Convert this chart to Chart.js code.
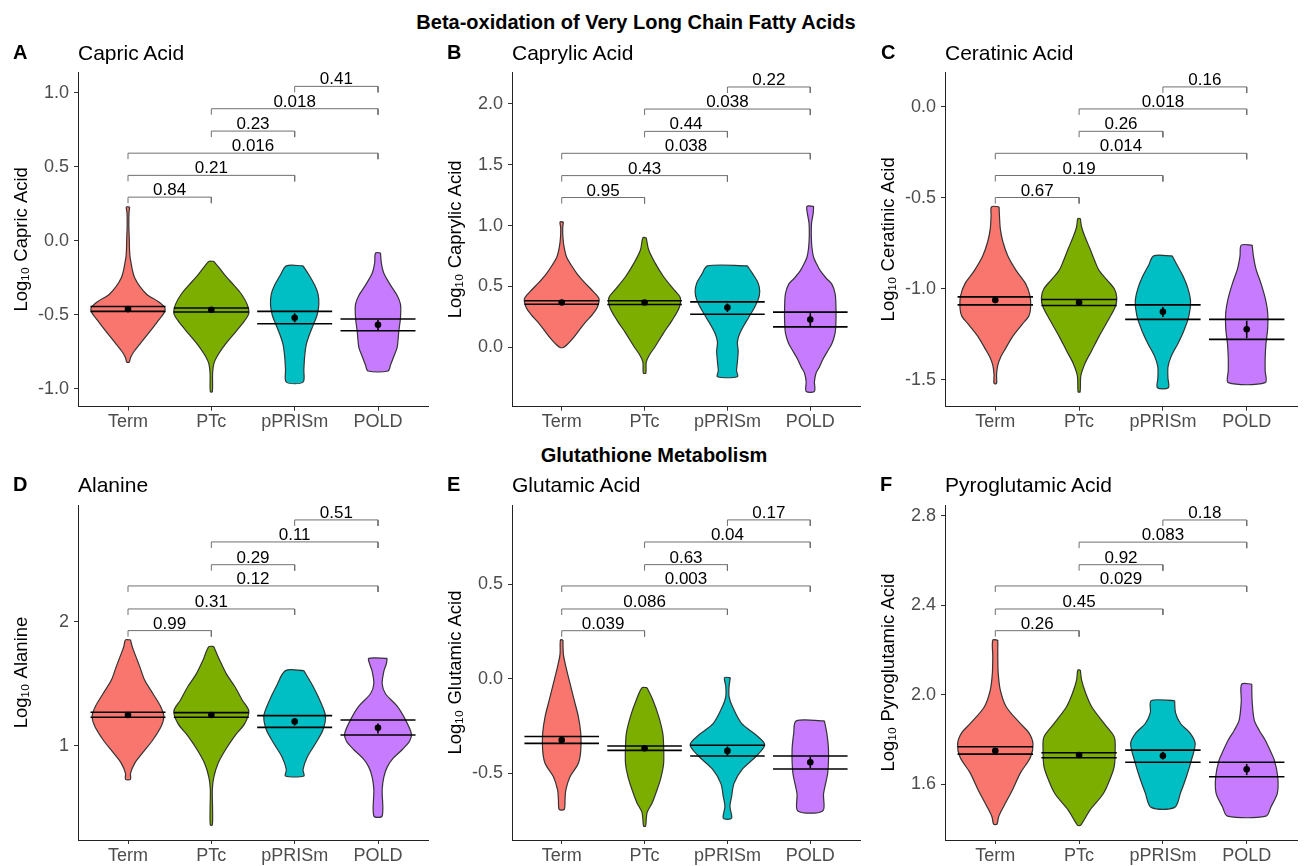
<!DOCTYPE html>
<html><head><meta charset="utf-8">
<script src="https://cdn.jsdelivr.net/npm/chart.js@4.4.1/dist/chart.umd.min.js"></script>
<style>
html,body{margin:0;padding:0;background:#fff;}
body{width:1304px;height:866px;position:relative;overflow:hidden;font-family:'Liberation Sans',Arial,sans-serif;}
canvas{position:absolute;}
.t{position:absolute;line-height:1;white-space:nowrap;transform:translateY(-50%);color:#000;z-index:5;}
.sec{font-weight:bold;font-size:20px;transform:translate(-50%,-50%);}
.let{font-weight:bold;font-size:20px;}
.ttl{font-size:21px;}
</style></head><body>
<div class="t sec" style="left:636px;top:22px;">Beta-oxidation of Very Long Chain Fatty Acids</div>
<div class="t sec" style="left:654px;top:455px;">Glutathione Metabolism</div>
<script>
// ---------- DATA ----------
const groups = ['Term', 'PTc', 'pPRISm', 'POLD'];
const pairs = [[1,2],[1,3],[1,4],[2,3],[2,4],[3,4]];

// Panel A: Capric Acid  (violin outline: [value, half-width in category units], top to bottom)
const capricShapes = [
  [[0.227,0.02],[0.19,0.012],[0.10,0.01],[0.02,0.015],[-0.08,0.02],[-0.13,0.03],[-0.25,0.08],[-0.36,0.22],[-0.41,0.36],[-0.45,0.44],[-0.48,0.44],[-0.55,0.35],[-0.63,0.24],[-0.70,0.14],[-0.75,0.07],[-0.79,0.03],[-0.82,0.015]],
  [[-0.14,0.03],[-0.18,0.09],[-0.245,0.18],[-0.30,0.27],[-0.36,0.36],[-0.43,0.43],[-0.49,0.45],[-0.54,0.40],[-0.61,0.30],[-0.67,0.21],[-0.72,0.14],[-0.78,0.07],[-0.83,0.03],[-0.90,0.015],[-1.02,0.012]],
  [[-0.17,0.10],[-0.23,0.17],[-0.30,0.24],[-0.36,0.28],[-0.43,0.29],[-0.50,0.27],[-0.56,0.23],[-0.63,0.18],[-0.70,0.14],[-0.78,0.12],[-0.87,0.11],[-0.955,0.10]],
  [[-0.083,0.03],[-0.15,0.04],[-0.22,0.07],[-0.30,0.15],[-0.37,0.23],[-0.43,0.27],[-0.52,0.27],[-0.61,0.25],[-0.72,0.23],[-0.78,0.19],[-0.84,0.15],[-0.88,0.12]]
];
const capricMean = [-0.462, -0.466, -0.52, -0.568];
const capricHi = [-0.444, -0.455, -0.477, -0.529];
const capricLo = [-0.477, -0.482, -0.561, -0.608];
const capricErrHi = [-0.452, -0.458, -0.49, -0.535];
const capricErrLo = [-0.472, -0.474, -0.55, -0.603];
const capricBracketY = [0.294, 0.441, 0.591, 0.740, 0.891, 1.042];
const capricP = ['0.84', '0.21', '0.016', '0.23', '0.018', '0.41'];
const capricTicks = [-1, -0.5, 0, 0.5, 1];
const capricTickLabels = ['-1.0', '-0.5', '0.0', '0.5', '1.0'];
const capricRange = [-1.121, 1.139];

// Panel B: Caprylic Acid
const caprylicShapes = [
  [[1.03,0.02],[0.98,0.012],[0.90,0.015],[0.82,0.03],[0.74,0.06],[0.67,0.12],[0.60,0.19],[0.53,0.28],[0.46,0.38],[0.40,0.45],[0.33,0.43],[0.27,0.37],[0.21,0.29],[0.14,0.21],[0.07,0.13],[0.02,0.06],[0.0,0.02]],
  [[0.90,0.02],[0.80,0.05],[0.69,0.13],[0.58,0.23],[0.47,0.36],[0.41,0.43],[0.33,0.42],[0.22,0.33],[0.12,0.23],[0.01,0.13],[-0.06,0.06],[-0.12,0.02],[-0.21,0.015]],
  [[0.67,0.24],[0.60,0.31],[0.53,0.37],[0.46,0.39],[0.39,0.37],[0.32,0.32],[0.25,0.26],[0.17,0.19],[0.10,0.14],[0.04,0.12],[-0.03,0.13],[-0.12,0.12],[-0.19,0.11],[-0.24,0.12]],
  [[1.158,0.04],[1.10,0.035],[1.02,0.015],[0.92,0.012],[0.82,0.02],[0.74,0.04],[0.68,0.08],[0.63,0.12],[0.57,0.19],[0.52,0.26],[0.44,0.30],[0.33,0.31],[0.22,0.31],[0.12,0.30],[0.03,0.26],[-0.04,0.20],[-0.10,0.15],[-0.16,0.11],[-0.21,0.07],[-0.28,0.05],[-0.36,0.05]]
];
const caprylicMean = [0.369, 0.369, 0.328, 0.23];
const caprylicHi = [0.383, 0.383, 0.374, 0.29];
const caprylicLo = [0.355, 0.352, 0.273, 0.169];
const caprylicErrHi = [0.38, 0.38, 0.36, 0.28];
const caprylicErrLo = [0.358, 0.358, 0.29, 0.175];
const caprylicBracketY = [1.23, 1.41, 1.593, 1.773, 1.956, 2.137];
const caprylicP = ['0.95', '0.43', '0.038', '0.44', '0.038', '0.22'];
const caprylicTicks = [0, 0.5, 1, 1.5, 2];
const caprylicTickLabels = ['0.0', '0.5', '1.0', '1.5', '2.0'];
const caprylicRange = [-0.486, 2.26];

// Panel C: Ceratinic Acid
const ceratinicShapes = [
  [[-0.549,0.045],[-0.60,0.05],[-0.67,0.06],[-0.74,0.09],[-0.82,0.15],[-0.90,0.25],[-0.97,0.36],[-1.04,0.415],[-1.11,0.42],[-1.15,0.40],[-1.19,0.33],[-1.26,0.21],[-1.33,0.12],[-1.38,0.06],[-1.42,0.03],[-1.47,0.015],[-1.52,0.015]],
  [[-0.614,0.015],[-0.66,0.03],[-0.714,0.07],[-0.78,0.13],[-0.85,0.19],[-0.90,0.24],[-0.95,0.33],[-1.00,0.42],[-1.05,0.45],[-1.10,0.43],[-1.17,0.35],[-1.26,0.24],[-1.34,0.15],[-1.41,0.07],[-1.48,0.02],[-1.566,0.012]],
  [[-0.819,0.11],[-0.87,0.17],[-0.93,0.24],[-1.00,0.30],[-1.07,0.33],[-1.15,0.31],[-1.23,0.25],[-1.30,0.18],[-1.37,0.10],[-1.43,0.06],[-1.49,0.06],[-1.544,0.065]],
  [[-0.76,0.065],[-0.82,0.08],[-0.89,0.11],[-0.97,0.17],[-1.05,0.22],[-1.13,0.25],[-1.22,0.25],[-1.30,0.23],[-1.38,0.22],[-1.45,0.22],[-1.516,0.22]]
];
const ceratinicMean = [-1.062, -1.075, -1.126, -1.222];
const ceratinicHi = [-1.044, -1.059, -1.088, -1.168];
const ceratinicLo = [-1.088, -1.092, -1.168, -1.278];
const ceratinicErrHi = [-1.05, -1.065, -1.1, -1.175];
const ceratinicErrLo = [-1.075, -1.085, -1.155, -1.27];
const ceratinicBracketY = [-0.498, -0.377, -0.255, -0.134, -0.011, 0.11];
const ceratinicP = ['0.67', '0.19', '0.014', '0.26', '0.018', '0.16'];
const ceratinicTicks = [-1.5, -1, -0.5, 0];
const ceratinicTickLabels = ['-1.5', '-1.0', '-0.5', '0.0'];
const ceratinicRange = [-1.648, 0.192];

// Panel D: Alanine
const alanineShapes = [
  [[1.853,0.03],[1.80,0.05],[1.745,0.08],[1.64,0.14],[1.53,0.20],[1.42,0.30],[1.32,0.39],[1.24,0.43],[1.16,0.40],[1.05,0.30],[0.94,0.17],[0.86,0.08],[0.78,0.03],[0.732,0.03]],
  [[1.799,0.03],[1.69,0.10],[1.58,0.18],[1.48,0.28],[1.37,0.37],[1.28,0.45],[1.18,0.40],[1.08,0.28],[0.97,0.17],[0.86,0.08],[0.75,0.03],[0.65,0.012],[0.49,0.015],[0.365,0.012]],
  [[1.606,0.11],[1.48,0.22],[1.34,0.32],[1.24,0.37],[1.13,0.34],[1.02,0.25],[0.91,0.15],[0.81,0.10],[0.759,0.11]],
  [[1.705,0.11],[1.66,0.10],[1.60,0.07],[1.50,0.05],[1.42,0.09],[1.32,0.23],[1.21,0.33],[1.10,0.40],[1.04,0.38],[0.97,0.29],[0.90,0.18],[0.83,0.11],[0.75,0.07],[0.65,0.05],[0.437,0.05]]
];
const alanineMean = [1.249, 1.249, 1.196, 1.147];
const alanineHi = [1.271, 1.268, 1.244, 1.209];
const alanineLo = [1.231, 1.231, 1.15, 1.088];
const alanineErrHi = [1.26, 1.26, 1.225, 1.18];
const alanineErrLo = [1.238, 1.238, 1.165, 1.1];
const alanineBracketY = [1.928, 2.102, 2.287, 2.458, 2.641, 2.818];
const alanineP = ['0.99', '0.31', '0.12', '0.29', '0.11', '0.51'];
const alanineTicks = [1, 2];
const alanineTickLabels = ['1', '2'];
const alanineRange = [0.244, 2.938];

// Panel E: Glutamic Acid
const glutamicShapes = [
  [[0.205,0.015],[0.13,0.02],[0.064,0.05],[-0.025,0.10],[-0.113,0.15],[-0.20,0.20],[-0.29,0.23],[-0.38,0.23],[-0.45,0.20],[-0.52,0.10],[-0.59,0.05],[-0.64,0.04],[-0.693,0.03]],
  [[-0.048,0.03],[-0.113,0.10],[-0.20,0.17],[-0.29,0.22],[-0.36,0.23],[-0.45,0.23],[-0.52,0.20],[-0.59,0.15],[-0.66,0.09],[-0.71,0.03],[-0.781,0.012]],
  [[0.005,0.035],[-0.04,0.02],[-0.095,0.02],[-0.148,0.06],[-0.237,0.17],[-0.30,0.35],[-0.35,0.45],[-0.41,0.35],[-0.48,0.18],[-0.555,0.08],[-0.625,0.05],[-0.678,0.03],[-0.74,0.05]],
  [[-0.224,0.17],[-0.29,0.20],[-0.38,0.22],[-0.50,0.21],[-0.61,0.16],[-0.701,0.15]]
];
const glutamicMean = [-0.325, -0.369, -0.383, -0.443];
const glutamicHi = [-0.307, -0.357, -0.353, -0.41];
const glutamicLo = [-0.343, -0.38, -0.41, -0.479];
const glutamicErrHi = [-0.31, -0.36, -0.36, -0.415];
const glutamicErrLo = [-0.34, -0.378, -0.41, -0.475];
const glutamicBracketY = [0.254, 0.369, 0.491, 0.604, 0.724, 0.841];
const glutamicP = ['0.039', '0.086', '0.003', '0.63', '0.04', '0.17'];
const glutamicTicks = [-0.5, 0, 0.5];
const glutamicTickLabels = ['-0.5', '0.0', '0.5'];
const glutamicRange = [-0.855, 0.92];

// Panel F: Pyroglutamic Acid
const pyroShapes = [
  [[2.244,0.03],[2.17,0.03],[2.095,0.035],[2.02,0.06],[1.946,0.13],[1.87,0.30],[1.83,0.40],[1.78,0.45],[1.72,0.42],[1.65,0.30],[1.57,0.20],[1.50,0.10],[1.454,0.04],[1.421,0.02]],
  [[2.11,0.015],[2.065,0.03],[2.005,0.08],[1.946,0.15],[1.87,0.30],[1.81,0.42],[1.75,0.43],[1.68,0.42],[1.633,0.38],[1.558,0.29],[1.484,0.13],[1.417,0.02]],
  [[1.973,0.14],[1.92,0.15],[1.871,0.21],[1.83,0.32],[1.782,0.385],[1.707,0.34],[1.633,0.28],[1.56,0.21],[1.496,0.14]],
  [[2.047,0.06],[1.97,0.065],[1.886,0.09],[1.84,0.15],[1.797,0.22],[1.75,0.28],[1.707,0.33],[1.633,0.37],[1.558,0.365],[1.499,0.29],[1.457,0.23]]
];
const pyroMean = [1.749, 1.73, 1.727, 1.666];
const pyroHi = [1.767, 1.74, 1.752, 1.698];
const pyroLo = [1.734, 1.718, 1.698, 1.633];
const pyroErrHi = [1.758, 1.737, 1.745, 1.69];
const pyroErrLo = [1.74, 1.723, 1.71, 1.64];
const pyroBracketY = [2.286, 2.383, 2.486, 2.581, 2.682, 2.781];
const pyroP = ['0.26', '0.45', '0.029', '0.92', '0.083', '0.18'];
const pyroTicks = [1.6, 2.0, 2.4, 2.8];
const pyroTickLabels = ['1.6', '2.0', '2.4', '2.8'];
const pyroRange = [1.35, 2.848];

// ---------- STYLE / LAYOUT ----------
const FILLS = ['#F8766D', '#7CAE00', '#00BFC4', '#C77CFF'];
const OUTLINE = '#333333';
const FONT = "'Liberation Sans', Arial, sans-serif";
Chart.defaults.font.family = FONT;

const panels = [
  {letter:'A', title:'Capric Acid', ylab:'Log\u2081\u2080 Capric Acid', shapes:capricShapes, mean:capricMean, hi:capricHi, lo:capricLo, eh:capricErrHi, el:capricErrLo, by:capricBracketY, p:capricP, ticks:capricTicks, tl:capricTickLabels, range:capricRange,
   left:0, top:52, w:434, h:388, xh:33.3, letX:13, titleY:52},
  {letter:'B', title:'Caprylic Acid', ylab:'Log\u2081\u2080 Caprylic Acid', shapes:caprylicShapes, mean:caprylicMean, hi:caprylicHi, lo:caprylicLo, eh:caprylicErrHi, el:caprylicErrLo, by:caprylicBracketY, p:caprylicP, ticks:caprylicTicks, tl:caprylicTickLabels, range:caprylicRange,
   left:434, top:52, w:432, h:388, xh:33.3, letX:447, titleY:52},
  {letter:'C', title:'Ceratinic Acid', ylab:'Log\u2081\u2080 Ceratinic Acid', shapes:ceratinicShapes, mean:ceratinicMean, hi:ceratinicHi, lo:ceratinicLo, eh:ceratinicErrHi, el:ceratinicErrLo, by:ceratinicBracketY, p:ceratinicP, ticks:ceratinicTicks, tl:ceratinicTickLabels, range:ceratinicRange,
   left:867, top:52, w:436, h:388, xh:33.3, letX:881, titleY:52},
  {letter:'D', title:'Alanine', ylab:'Log\u2081\u2080 Alanine', shapes:alanineShapes, mean:alanineMean, hi:alanineHi, lo:alanineLo, eh:alanineErrHi, el:alanineErrLo, by:alanineBracketY, p:alanineP, ticks:alanineTicks, tl:alanineTickLabels, range:alanineRange,
   left:0, top:485, w:434, h:381, xh:26, letX:13, titleY:484},
  {letter:'E', title:'Glutamic Acid', ylab:'Log\u2081\u2080 Glutamic Acid', shapes:glutamicShapes, mean:glutamicMean, hi:glutamicHi, lo:glutamicLo, eh:glutamicErrHi, el:glutamicErrLo, by:glutamicBracketY, p:glutamicP, ticks:glutamicTicks, tl:glutamicTickLabels, range:glutamicRange,
   left:434, top:485, w:432, h:381, xh:26, letX:447, titleY:484},
  {letter:'F', title:'Pyroglutamic Acid', ylab:'Log\u2081\u2080 Pyroglutamic Acid', shapes:pyroShapes, mean:pyroMean, hi:pyroHi, lo:pyroLo, eh:pyroErrHi, el:pyroErrLo, by:pyroBracketY, p:pyroP, ticks:pyroTicks, tl:pyroTickLabels, range:pyroRange,
   left:867, top:485, w:436, h:381, xh:26, letX:880, titleY:484}
];
const Y_AXIS_W = 78, PAD_TOP = 20, PAD_RIGHT = 6, LINE_HW = 0.45;

const bracketLabelPlugin = {
  id: 'bracketLabels',
  afterDatasetsDraw(chart, args, opts) {
    const {ctx, scales: {x, y}} = chart;
    ctx.save();
    ctx.font = '17px ' + FONT;
    ctx.fillStyle = '#000';
    ctx.textAlign = 'center';
    ctx.textBaseline = 'alphabetic';
    opts.ys.forEach((v, k) => {
      const [a, b] = opts.pairs[k];
      ctx.fillText(opts.labels[k], x.getPixelForValue((a + b) / 2), y.getPixelForValue(v) - 2);
    });
    ctx.restore();
  }
};

function addText(cls, left, top, text) {
  const d = document.createElement('div');
  d.className = 't ' + cls;
  d.style.left = left + 'px';
  d.style.top = top + 'px';
  d.textContent = text;
  document.body.appendChild(d);
}

panels.forEach(P => {
  const cv = document.createElement('canvas');
  cv.width = P.w; cv.height = P.h;
  cv.style.left = P.left + 'px'; cv.style.top = P.top + 'px';
  cv.style.width = P.w + 'px'; cv.style.height = P.h + 'px';
  document.body.appendChild(cv);
  addText('let', P.letX, P.titleY, P.letter);
  addText('ttl', P.left + Y_AXIS_W, P.titleY, P.title);

  const span = P.range[1] - P.range[0];
  const tip = span * 0.018;
  const ds = [];
  P.shapes.forEach((shape, g) => {
    const c = g + 1;
    const pts = shape.map(([v, hw]) => ({x: c + hw, y: v}));
    for (let i = shape.length - 1; i >= 0; i--) pts.push({x: c - shape[i][1], y: shape[i][0]});
    pts.push({x: c + shape[0][1], y: shape[0][0]});
    ds.push({data: pts, fill: 'shape', backgroundColor: FILLS[g], borderColor: OUTLINE, borderWidth: 1.2,
      pointRadius: 0, tension: 0.3, order: 10});
  });
  P.by.forEach((v, k) => {
    const [a, b] = pairs[k];
    ds.push({data: [{x: a, y: v - tip}, {x: a, y: v}, {x: b, y: v}, {x: b, y: v - tip}], fill: false,
      borderColor: '#707070', borderWidth: 1, pointRadius: 0, tension: 0, order: 9});
  });
  P.mean.forEach((m, g) => {
    const c = g + 1;
    [P.hi[g], P.lo[g]].forEach(v => ds.push({data: [{x: c - LINE_HW, y: v}, {x: c + LINE_HW, y: v}], fill: false,
      borderColor: '#000', borderWidth: 1.6, pointRadius: 0, tension: 0, order: 5}));
    ds.push({data: [{x: c, y: P.el[g]}, {x: c, y: P.eh[g]}], fill: false, borderColor: '#000', borderWidth: 1.6,
      pointRadius: 0, tension: 0, order: 4});
  });
  ds.push({data: P.mean.map((m, g) => ({x: g + 1, y: m})), showLine: false, pointRadius: 3.3,
    pointBackgroundColor: '#000', pointBorderWidth: 0, order: 1});

  new Chart(cv, {
    type: 'line',
    data: {datasets: ds},
    options: {
      responsive: false, animation: false, events: [], devicePixelRatio: 1,
      layout: {padding: {top: PAD_TOP, right: PAD_RIGHT, left: 0, bottom: 0}},
      plugins: {legend: {display: false}, tooltip: {enabled: false},
        bracketLabels: {ys: P.by, labels: P.p, pairs: pairs}},
      scales: {
        x: {type: 'linear', min: 0.4, max: 4.6,
          afterBuildTicks: s => { s.ticks = [1, 2, 3, 4].map(v => ({value: v})); },
          afterFit: s => { s.height = P.xh; },
          ticks: {callback: v => groups[Math.round(v) - 1], font: {size: 18}, color: '#4d4d4d', padding: 1,
            autoSkip: false, maxRotation: 0},
          grid: {display: true, drawOnChartArea: false, drawTicks: true, tickLength: 4, color: '#333', lineWidth: 1},
          border: {display: true, color: '#222', width: 1}},
        y: {type: 'linear', min: P.range[0], max: P.range[1],
          afterBuildTicks: s => { s.ticks = P.ticks.map(v => ({value: v})); },
          afterFit: s => { s.width = Y_AXIS_W; },
          ticks: {callback: v => P.tl[P.ticks.indexOf(v)], font: {size: 18}, color: '#4d4d4d', padding: 5},
          grid: {display: true, drawOnChartArea: false, drawTicks: true, tickLength: 4, color: '#333', lineWidth: 1},
          border: {display: true, color: '#222', width: 1},
          title: {display: true, text: P.ylab, font: {size: 18.5}, color: '#000', padding: {top: 10.5, bottom: 0}}}
      }
    },
    plugins: [bracketLabelPlugin]
  });
});
</script>
</body></html>
